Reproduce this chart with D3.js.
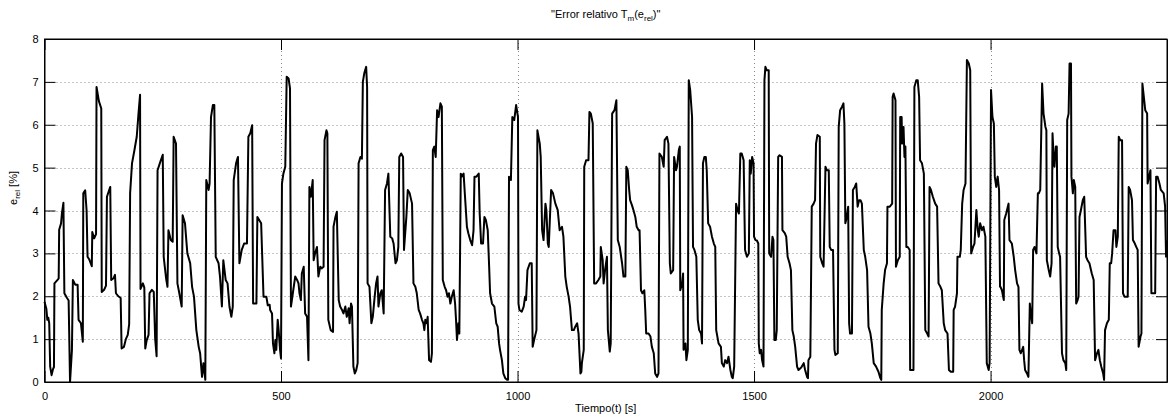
<!DOCTYPE html>
<html>
<head>
<meta charset="utf-8">
<script src="https://d3js.org/d3.v7.min.js"></script>
<style>
  html, body { margin: 0; padding: 0; background: #fff; }
  svg { display: block; }
  text { font-family: "Liberation Sans", Arial, Helvetica, sans-serif; fill: #000; }
</style>
</head>
<body>
<svg id="chart" width="1169" height="416"></svg>
<script>
// ---- data (time in s, relative error in %) ----
const times = [
  0,4,6,8,10,12,15,18,20,21,29,30,31,35,37,40,42,47,51,54,58,60,65,70,72,77,81,82,86,89,91,95,100,101,105,109,110,115,120,121,126,130,132,139,141,146,149,151,156,161,163,168,172,176,179,181,185,190,195,199,202,203,208,211,213,216,220,222,227,231,234,237,239,245,250,
  252,257,260,262,267,271,273,278,281,285,290,292,297,302,308,312,316,321,326,329,333,336,340,342,347,349,352,356,359,362,368,371,375,378,383,387,391,395,398,400,405,409,412,417,422,428,431,435,439,441,448,450,458,463,469,472,476,
  477,481,483,486,488,490,493,495,498,500,502,505,509,512,516,519,521,525,530,534,537,539,542,544,548,551,555,558,560,563,567,569,572,576,579,583,586,590,592,596,598,600,605,610,611,615,618,622,625,629,632,636,639,643,645,648,650,653,656,659,662,664,668,671,673,676,680,682,683,687,691,694,698,701,704,706,710,713,717,720,724,727,
  731,735,738,740,742,745,748,750,754,758,760,765,768,772,777,780,784,787,791,794,798,801,803,805,808,810,813,817,819,821,824,827,830,833,837,840,842,846,849,852,855,858,861,865,868,870,872,875,877,880,882,886,889,893,896,900,904,907,909,913,918,920,923,927,930,933,937,940,942,946,951,955,958,961,963,967,970,974,978,980,982,986,989,993,997,1001,
  1002,1004,1009,1013,1016,1018,1021,1026,1030,1032,1035,1040,1042,1047,1049,1052,1055,1059,1061,1064,1066,1068,1071,1075,1080,1085,1089,1094,1097,1101,1104,1108,1111,1115,1119,1122,1126,1129,1133,1135,1136,1140,1141,1145,1150,1152,1155,1159,1162,1166,1171,1175,1176,1180,1182,1185,1189,1191,1195,1197,1200,1205,1209,1212,1216,1221,1224,1228,1230,1233,1236,1238,1242,1245,1249,1252,1256,
  1258,1261,1264,1268,1270,1272,1277,1281,1284,1288,1291,1295,1298,1300,1305,1309,1311,1316,1319,1322,1324,1329,1331,1335,1337,1341,1343,1344,1348,1350,1351,1355,1357,1360,1362,1365,1369,1371,1374,1378,1381,1384,1388,1390,1392,1395,1398,1400,1403,1407,1411,1415,1418,1420,1425,1430,1432,1436,1439,1443,1446,1450,1453,1455,1458,1462,1465,1468,1471,1474,1478,1481,1485,1489,1491,1493,1496,1499,
  1500,1503,1506,1509,1510,1512,1515,1517,1520,1522,1524,1527,1531,1532,1536,1539,1541,1543,1546,1548,1551,1554,1559,1560,1565,1568,1571,1575,1578,1581,1584,1587,1591,1594,1598,1601,1605,1608,1612,1614,1615,1619,1622,1626,1629,1631,1634,1639,1640,1644,1647,1651,1654,1658,1660,1663,1667,1670,1672,1677,1679,1682,1686,1689,1691,1693,1696,1699,1701,1703,1707,1709,1713,1716,1719,1722,1725,1728,1732,1735,1739,1742,1746,1749,1753,1758,1763,1767,1769,
  1770,1774,1777,1781,1782,1787,1792,1793,1795,1799,1800,1804,1808,1809,1812,1813,1816,1818,1820,1822,1825,1829,1830,1834,1837,1839,1843,1846,1849,1851,1855,1859,1862,1866,1869,1871,1874,1878,1883,1887,1890,1894,1897,1901,1904,1909,1912,1916,1921,1922,1925,1929,1930,1935,1937,1940,1943,1947,1950,1954,1957,1959,1963,1966,1970,1973,1975,1978,1982,1985,1989,1992,1996,1998,2001,2004,2007,2009,2012,2015,2018,2020,
  2021,2024,2028,2029,2033,2038,2040,2045,2049,2052,2056,2059,2061,2064,2069,2071,2073,2077,2080,2083,2085,2088,2090,2093,2097,2100,2102,2105,2109,2112,2116,2118,2119,2123,2126,2129,2131,2133,2135,2138,2140,2142,2145,2147,2151,2154,2158,2160,2162,2165,2167,2170,2171,2174,2176,2179,2181,2184,2186,2188,2191,2195,2198,2202,2205,2209,2214,2218,2221,2225,2228,2231,2234,2238,2240,2242,2246,2250,2252,2255,2257,2260,2264,2266,2269,2271,2274,2278,2280,2283,2287,2290,2292,2295,2299,2301,2305,2308,2311,2313,2317,2319,2321,2324,2327,2331,2332,2335,2338,2340,2345,2348,2350,2353,2357,2360,2366,2369,2371,2373
];
const errors = [
  1.87,1.7,1.45,1.5,1.37,0.36,0.16,0.3,0.35,2.3,2.4,2.42,3.55,3.7,3.95,4.18,2.07,1.97,1.9,0,0.75,2.38,2.27,2.27,1.45,1.37,0.94,4.4,4.47,4.0,2.92,2.85,2.7,3.5,3.35,3.45,6.88,6.55,6.38,2.1,2.15,2.25,4.32,4.55,2.38,2.42,2.5,2.07,2.0,1.96,0.78,0.82,1.0,1.1,1.35,4.4,5.1,5.4,5.72,6.3,6.7,2.17,2.3,2.2,0.78,0.97,1.1,2.07,2.15,2.1,1.0,0.6,4.94,5.14,5.3,
  2.92,2.42,2.22,3.54,3.31,3.27,5.72,5.56,2.3,2.07,1.76,3.89,3.7,3.0,2.77,2.22,1.99,1.21,0.82,0.67,0.12,0.44,0.05,4.71,4.48,4.63,6.18,6.46,6.46,2.92,2.77,2.46,1.76,2.84,2.38,2.3,1.76,1.52,1.76,4.71,5.1,5.25,2.77,3.08,3.23,3.23,5.72,5.8,5.99,1.83,1.83,3.85,3.7,1.99,1.99,1.79,1.8,
  1.68,1.6,0.9,0.67,0.98,0.75,1.45,1.21,0.75,0.55,4.63,4.86,5.02,7.12,7.08,6.85,1.76,2.07,2.46,2.38,2.3,2.07,1.91,2.53,2.69,1.6,1.52,0.51,4.55,4.32,4.71,2.84,3.0,3.15,2.46,2.69,2.65,2.69,5.64,5.87,5.8,1.45,1.21,1.17,3.62,3.85,3.97,1.91,1.76,1.68,1.6,1.76,1.52,1.72,1.37,1.83,1.76,0.36,0.2,0.28,0.44,5.1,5.25,5.21,7.0,7.2,7.35,6.88,2.3,2.22,1.37,1.52,1.99,2.3,2.46,1.76,2.07,2.14,1.6,4.48,4.63,4.86,
  3.39,3.35,3.23,3.0,2.77,2.84,3.15,5.25,5.33,5.25,3.08,3.85,4.48,4.4,4.16,2.3,2.22,2.07,1.68,1.6,1.45,1.37,1.21,1.45,1.37,1.52,0.51,0.47,0.67,5.41,5.49,5.25,6.34,6.18,6.5,6.42,2.38,2.22,2.14,1.99,2.07,1.83,1.99,2.14,1.83,1.45,0.98,1.37,1.13,4.86,4.79,4.86,4.32,3.62,3.47,3.31,3.19,3.54,4.79,4.79,4.86,3.93,3.23,3.23,3.85,3.78,3.54,2.69,2.07,1.83,1.76,1.37,1.29,0.9,0.75,0.51,0.2,0.09,0.05,0.05,4.79,4.71,6.18,6.11,6.46,6.18,
  1.83,1.68,1.64,1.76,1.99,1.91,2.61,2.77,2.77,0.82,0.98,1.21,5.87,5.56,5.25,3.54,3.31,4.16,4.01,3.23,3.15,3.7,4.48,4.4,4.16,4.01,3.54,3.62,3.39,2.46,2.22,1.99,1.76,1.21,1.21,1.29,1.37,1.13,0.2,0.24,0.44,0.75,5.02,5.17,5.17,6.3,6.26,6.03,2.3,2.3,2.38,2.46,3.15,2.84,2.3,2.61,2.92,1.21,0.71,0.9,6.26,6.34,6.57,3.31,3.15,2.77,2.46,2.46,5.02,4.94,4.48,4.24,4.12,4.01,3.85,3.62,3.54,
  3.54,2.14,2.07,2.14,1.68,1.13,1.13,1.06,0.82,0.67,0.2,0.12,0.2,5.33,5.25,5.02,5.64,5.72,5.56,2.77,2.53,2.61,5.25,4.94,5.02,5.41,5.49,2.14,2.3,2.53,0.75,0.9,0.51,0.75,7.04,6.81,6.18,3.15,3.08,2.92,1.45,1.21,1.13,0.9,5.1,5.25,5.25,4.94,3.7,3.62,3.39,3.23,3.15,1.21,0.9,0.82,0.44,0.36,0.51,0.44,0.59,0.28,0.12,0.09,0.36,4.16,4.01,3.93,5.33,5.33,5.17,3.08,2.92,3.0,5.17,4.86,5.25,5.1,
  3.39,3.31,3.3,3.23,0.9,0.67,0.75,0.51,0.36,7.04,7.35,7.27,7.27,3.0,2.92,3.39,3.31,0.98,0.98,1.21,5.25,5.29,5.25,3.54,3.47,3.39,2.92,2.77,2.61,1.21,1.06,0.82,0.36,0.28,0.32,0.36,0.44,0.28,0.12,0.09,0.51,0.59,4.09,4.16,4.24,5.56,5.76,5.72,2.92,2.77,2.69,5.02,4.94,4.94,3.15,3.08,3.08,0.75,0.63,0.67,5.95,6.34,6.42,6.5,6.03,3.7,3.85,4.09,1.37,1.13,1.13,4.48,4.55,4.63,4.09,4.24,4.24,4.16,3.08,2.92,2.61,1.29,1.13,0.9,0.44,0.36,0.24,0.09,0.05,
  1.68,2.3,2.61,2.77,4.09,4.09,4.16,6.65,6.73,6.57,2.69,2.84,2.92,6.18,6.18,5.56,5.95,5.25,5.49,3.15,3.15,3.08,0.28,0.28,0.28,6.88,7.04,7.04,6.65,5.17,5.1,4.86,1.21,1.13,1.06,4.55,4.48,4.32,4.16,4.09,2.3,2.22,2.14,1.37,1.21,1.13,0.28,0.24,0.24,1.68,1.76,2.07,2.92,2.92,3.08,4.16,4.48,4.63,7.51,7.43,7.27,3.0,3.15,3.23,4.01,3.54,3.39,3.7,3.54,3.62,3.39,0.44,0.28,0.44,6.81,6.18,6.03,4.79,4.55,4.79,4.48,2.22,
  2.22,2.14,1.91,3.78,3.93,4.16,3.31,3.23,2.92,2.61,2.3,2.22,0.75,0.67,0.82,0.51,0.28,0.2,0.12,1.83,1.6,1.37,3.08,3.15,3.0,4.4,4.4,4.48,6.96,6.26,5.95,5.87,2.84,2.61,2.46,2.77,5.8,5.33,5.02,5.49,5.49,3.15,3.0,2.92,0.67,0.51,0.44,0.28,6.11,6.26,7.43,7.43,4.79,4.4,4.71,4.55,1.83,1.91,1.99,3.85,4.01,4.24,4.32,2.92,2.84,2.77,2.53,2.38,0.51,0.67,0.75,0.51,0.36,0.2,0.05,1.21,1.37,1.45,2.77,2.77,3.0,3.54,3.54,3.15,3.39,5.72,5.64,5.64,2.07,1.99,1.99,1.99,4.55,4.48,4.24,3.31,3.23,3.15,3.08,0.82,1.06,1.13,6.96,6.65,6.34,6.26,4.63,4.79,4.94,2.07,2.07,2.07,4.79,4.79,4.63,4.48,4.4,4.09,2.92,3.3
];
const xTicks = [0, 500, 1000, 1500, 2000];
const yTicks = [0, 1, 2, 3, 4, 5, 6, 7, 8];
const xDomain = [0, 2373];
const yDomain = [0, 8];

// ---- layout ----
const svg = d3.select("#chart");
const W = 1169, H = 416;
const m = { left: 44.5, right: 2, top: 39, bottom: 34 };
const x0 = m.left, x1 = W - m.right, y0 = H - m.bottom, y1 = m.top;
const tickLen = 11;

const x = d3.scaleLinear().domain(xDomain).range([x0, x1]);
const y = d3.scaleLinear().domain(yDomain).range([y0, y1]);

svg.append("rect").attr("width", W).attr("height", H).attr("fill", "#fff");

// grid (dotted)
const grid = svg.append("g").attr("stroke", "#8a8a8a").attr("stroke-width", 1).attr("stroke-dasharray", "1,3");
xTicks.filter(d => d > xDomain[0]).forEach(d => {
  grid.append("line").attr("x1", Math.round(x(d)) + 0.5).attr("x2", Math.round(x(d)) + 0.5)
    .attr("y1", y1).attr("y2", y0);
});
yTicks.filter(d => d > yDomain[0] && d < yDomain[1]).forEach(d => {
  grid.append("line").attr("y1", Math.round(y(d)) + 0.5).attr("y2", Math.round(y(d)) + 0.5)
    .attr("x1", x0).attr("x2", x1);
});

// data line
const line = d3.line().x((d, i) => x(times[i])).y((d, i) => y(errors[i]));
svg.append("path")
  .datum(errors)
  .attr("d", line)
  .attr("fill", "none")
  .attr("stroke", "#000")
  .attr("stroke-width", 2)
  .attr("stroke-linejoin", "round");

// axes with inward ticks on all four sides
const fmt = d3.format("d");
const gB = svg.append("g").attr("transform", `translate(0,${y0})`)
  .call(d3.axisBottom(x).tickValues(xTicks).tickFormat(fmt).tickSizeInner(-tickLen).tickSizeOuter(0).tickPadding(10));
const gT = svg.append("g").attr("transform", `translate(0,${y1})`)
  .call(d3.axisTop(x).tickValues(xTicks).tickFormat("").tickSizeInner(-tickLen).tickSizeOuter(0));
const gL = svg.append("g").attr("transform", `translate(${x0},0)`)
  .call(d3.axisLeft(y).tickValues(yTicks).tickFormat(fmt).tickSizeInner(-tickLen).tickSizeOuter(0).tickPadding(6));
const gR = svg.append("g").attr("transform", `translate(${x1},0)`)
  .call(d3.axisRight(y).tickValues(yTicks).tickFormat("").tickSizeInner(-tickLen).tickSizeOuter(0));

[gB, gT, gL, gR].forEach(g => {
  g.selectAll(".domain").attr("stroke", "#000");
  g.selectAll(".tick line").attr("stroke", "#000");
  g.selectAll("text").attr("font-size", 11).attr("font-family", '"Liberation Sans", Arial, Helvetica, sans-serif');
});

// box frame
svg.append("rect").attr("x", x0).attr("y", y1).attr("width", x1 - x0).attr("height", y0 - y1)
  .attr("fill", "none").attr("stroke", "#000").attr("stroke-width", 1);

// title
const title = svg.append("text").attr("x", (x0 + x1) / 2).attr("y", 18)
  .attr("text-anchor", "middle").attr("font-size", 11);
title.append("tspan").text("\"Error relativo T");
title.append("tspan").attr("font-size", 8).attr("dy", 3).text("m");
title.append("tspan").attr("dy", -3).text("(e");
title.append("tspan").attr("font-size", 8).attr("dy", 3).text("rel");
title.append("tspan").attr("dy", -3).text(")\"");

// x label
svg.append("text").attr("x", (x0 + x1) / 2).attr("y", 412)
  .attr("text-anchor", "middle").attr("font-size", 11).text("Tiempo(t) [s]");

// y label
const yl = svg.append("text")
  .attr("transform", `translate(17,188) rotate(-90)`)
  .attr("text-anchor", "middle").attr("font-size", 11);
yl.append("tspan").text("e");
yl.append("tspan").attr("font-size", 8).attr("dy", 3).text("rel");
yl.append("tspan").attr("dy", -3).text(" [%]");
</script>
</body>
</html>
